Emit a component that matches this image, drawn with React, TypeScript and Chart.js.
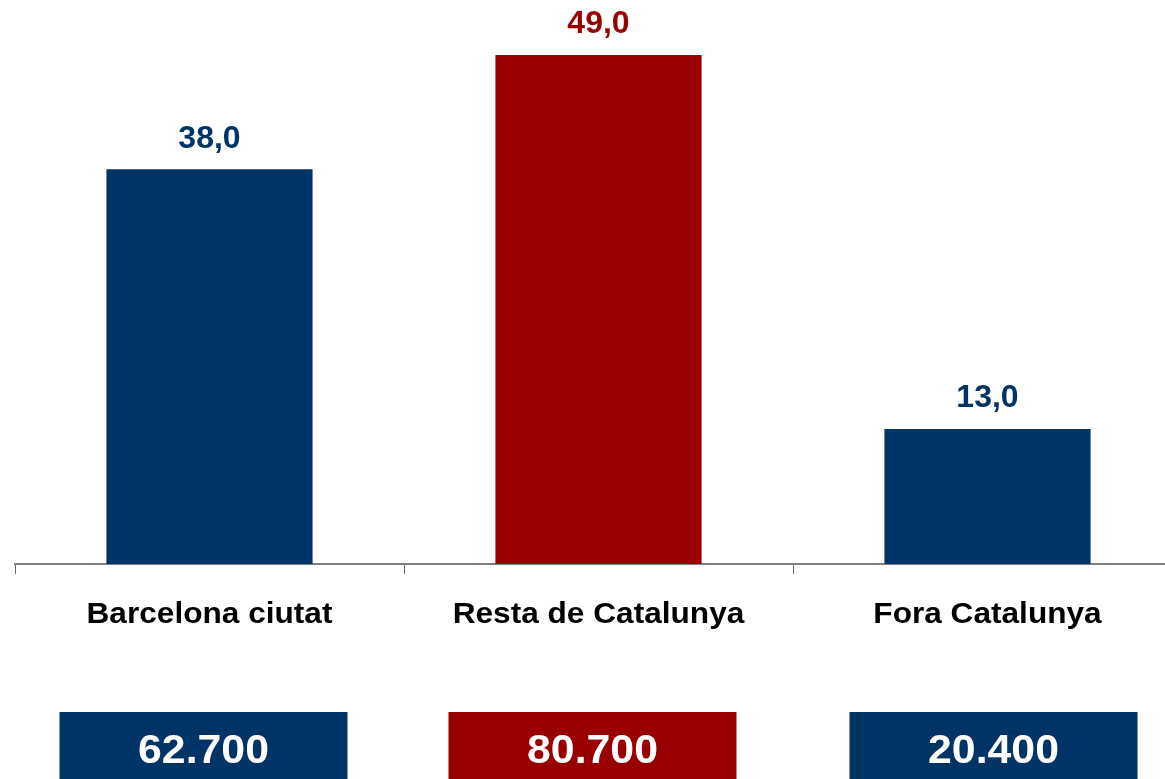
import React, { useEffect, useRef } from "react";
import { Chart, registerables } from "chart.js";

Chart.register(...registerables);

const categories = ["Barcelona ciutat", "Resta de Catalunya", "Fora Catalunya"];
const shares = [38.0, 49.0, 13.0];
const shareLabels = ["38,0", "49,0", "13,0"];
const totals = ["62.700", "80.700", "20.400"];

const NAVY = "#003366";
const RED = "#990000";
const barColors = [NAVY, RED, NAVY];
const FONT = '"Liberation Sans", Arial, sans-serif';

const overlayPlugin = {
  id: "overlay",
  afterDraw(chart: any) {
    const ctx = chart.ctx;
    const meta = chart.getDatasetMeta(0);
    const xScale = chart.scales.x;
    const boxShift = [-6, -6, 6];
    ctx.save();
    meta.data.forEach((el: any, i: number) => {
      // value labels above bars
      ctx.fillStyle = barColors[i];
      ctx.font = `bold 32px ${FONT}`;
      ctx.textAlign = "center";
      ctx.textBaseline = "alphabetic";
      ctx.fillText(shareLabels[i], el.x, el.y - 21.5);

      const cx = xScale.getPixelForValue(i);
      // category labels
      ctx.save();
      ctx.translate(cx, 623);
      ctx.scale(1.09, 1);
      ctx.fillStyle = "#000000";
      ctx.font = `bold 29px ${FONT}`;
      ctx.fillText(categories[i], 0, 0);
      ctx.restore();

      // total boxes
      const bx = cx + boxShift[i];
      ctx.fillStyle = barColors[i];
      ctx.fillRect(bx - 144, 712, 288, 80);
      ctx.save();
      ctx.translate(bx, 763);
      ctx.scale(1.07, 1);
      ctx.fillStyle = "#ffffff";
      ctx.font = `bold 40px ${FONT}`;
      ctx.fillText(totals[i], 0, 0);
      ctx.restore();
    });
    ctx.restore();
  },
};

export default function App() {
  const ref = useRef<HTMLCanvasElement>(null);
  useEffect(() => {
    document.body.style.margin = "0";
    const canvas = ref.current!;
    const chart = new Chart(canvas, {
      type: "bar",
      data: {
        labels: categories,
        datasets: [
          {
            data: shares,
            backgroundColor: barColors,
            borderWidth: 0,
            barPercentage: 0.53,
            categoryPercentage: 1,
          },
        ],
      },
      options: {
        responsive: false,
        animation: false,
        devicePixelRatio: 1,
        layout: { padding: { left: 15, right: 8, top: 44.5, bottom: 205 } },
        plugins: { legend: { display: false }, tooltip: { enabled: false } },
        scales: {
          x: {
            z: 1,
            offset: true,
            ticks: { display: false },
            grid: {
              offset: true,
              drawOnChartArea: false,
              drawTicks: true,
              tickLength: 10,
              color: "#666666",
              lineWidth: 1,
            },
            border: { display: true, color: "#808080", width: 2 },
          },
          y: { display: false, min: 0, max: 50 },
        },
      },
      plugins: [overlayPlugin],
    });
    return () => chart.destroy();
  }, []);
  return (
    <div style={{ width: 1165, height: 779, overflow: "hidden", position: "relative", background: "#fff" }}>
      <canvas ref={ref} width={1190} height={779} style={{ position: "absolute", left: 0, top: 0 }} />
    </div>
  );
}
